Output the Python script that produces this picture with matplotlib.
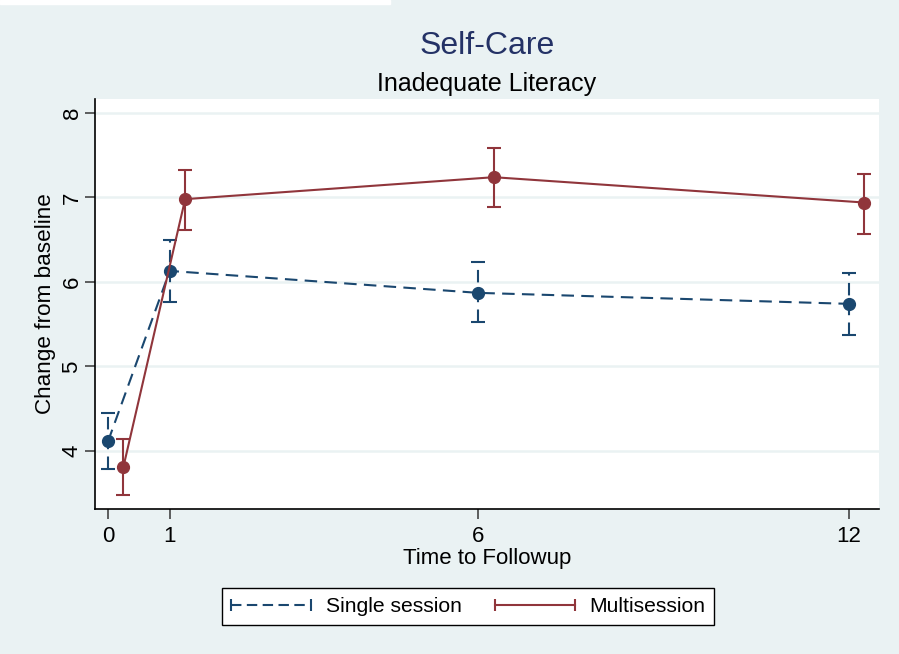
import matplotlib

matplotlib.use("Agg")
import matplotlib.pyplot as plt
from matplotlib.legend_handler import HandlerLine2D
from matplotlib.lines import Line2D
from matplotlib.patches import Rectangle

plt.rcParams["font.family"] = ["Liberation Sans", "DejaVu Sans"]

NAVY = "#1a476f"
MAROON = "#90353b"
TITLE = "#243266"
BG = "#eaf2f3"

# time points (multisession drawn with a small offset)
times = [0, 1, 6, 12]
offset = 0.25

single_mean = [4.11, 6.13, 5.87, 5.74]
single_lo = [3.78, 5.76, 5.53, 5.37]
single_hi = [4.45, 6.50, 6.24, 6.11]

multi_mean = [3.81, 6.98, 7.24, 6.94]
multi_lo = [3.48, 6.62, 6.89, 6.57]
multi_hi = [4.14, 7.33, 7.59, 7.28]

yticks = [4, 5, 6, 7, 8]

fig = plt.figure(figsize=(8.99, 6.54), dpi=100, facecolor=BG)
# thin white strip at the top-left of the original export
fig.patches.append(Rectangle((0, 1 - 4 / 654), 390 / 899, 4 / 654,
                             transform=fig.transFigure, color="white", zorder=0))

ax = fig.add_axes([0.1057, 0.2217, 0.8721, 0.6269])
ax.set_facecolor("white")

multi_x = [t + offset for t in times]

def bars(mean, lo, hi):
    return [m - l for m, l in zip(mean, lo)], [h - m for m, h in zip(mean, hi)]

err_s = bars(single_mean, single_lo, single_hi)
err_m = bars(multi_mean, multi_lo, multi_hi)

eb = ax.errorbar(times, single_mean, yerr=err_s, fmt="none", ecolor=NAVY,
                 elinewidth=1.5, capsize=5, capthick=1.5, zorder=3)
for lc in eb[2]:
    lc.set_linestyle((0, (6, 3.5)))
ax.plot(times, single_mean, color=NAVY, lw=1.5, dashes=(6, 3.5),
        marker="o", markersize=8.5, zorder=4)

ax.errorbar(multi_x, multi_mean, yerr=err_m, fmt="none", ecolor=MAROON,
            elinewidth=1.5, capsize=5, capthick=1.5, zorder=3)
ax.plot(multi_x, multi_mean, color=MAROON, lw=1.5,
        marker="o", markersize=8.5, zorder=4)

ax.set_xlim(-0.21, 12.49)
ax.set_ylim(3.31, 8.166)
ax.set_xticks(times)
ax.set_yticks(yticks)
ax.tick_params(axis="both", labelsize=16, length=7, width=1.2,
               color="#444444")
ax.tick_params(axis="x", pad=5)
ax.tick_params(axis="y", pad=2)
for lab in ax.get_yticklabels():
    lab.set_rotation(90)
    lab.set_va("center")
ax.grid(axis="y", color=BG, lw=1.8)
ax.set_axisbelow(True)
for s in ("top", "right"):
    ax.spines[s].set_visible(False)
for s in ("left", "bottom"):
    ax.spines[s].set_linewidth(1.2)

ax.set_xlabel("Time to Followup", fontsize=16, labelpad=1)
ax.set_ylabel("Change from baseline", fontsize=16.2, labelpad=4)

fig.text(0.5417, 0.929, "Self-Care", ha="center", va="center",
         fontsize=23, color=TITLE)
fig.text(0.5417, 0.871, "Inadequate Literacy", ha="center", va="center",
         fontsize=18)

handles = [
    Line2D([0], [0], color=NAVY, lw=1.5, dashes=(5, 2.6), marker="|",
           markersize=9, markeredgewidth=1.5),
    Line2D([0], [0], color=MAROON, lw=1.5, marker="|",
           markersize=9, markeredgewidth=1.5),
]
leg = fig.legend(handles, ["Single session", "Multisession"], ncol=2,
                 loc="lower left", bbox_to_anchor=(0.247, 0.0443),
                 bbox_transform=fig.transFigure, fontsize=15.2, numpoints=2,
                 handlelength=3.8, columnspacing=1.55, handletextpad=0.7,
                 fancybox=False, framealpha=1, edgecolor="black",
                 borderpad=0.42, borderaxespad=0,
                 handler_map={Line2D: HandlerLine2D(marker_pad=0)})
leg.get_frame().set_linewidth(1.0)

fig.savefig("out.png", dpi=100, facecolor=BG)
